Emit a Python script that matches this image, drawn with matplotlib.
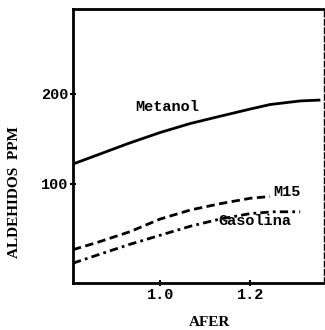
import matplotlib
matplotlib.use("Agg")
import matplotlib.pyplot as plt

# Data
afer_met = [0.806, 0.86, 0.93, 1.0, 1.067, 1.133, 1.2, 1.244, 1.311, 1.356]
metanol = [122, 132, 145, 157, 167, 175, 183, 188, 192, 193]

afer_m15 = [0.806, 0.86, 0.933, 1.0, 1.067, 1.133, 1.2, 1.244]
m15 = [27, 35, 47, 61, 71, 78, 84, 86]

afer_gas = [0.806, 0.86, 0.933, 1.0, 1.067, 1.133, 1.2, 1.25, 1.311]
gasolina = [12, 21, 33, 43, 53, 61, 67, 69, 69]

xticks = [1.0, 1.2]
xticklabels = ["1.0", "1.2"]
yticks = [100, 200]
yticklabels = ["100", "200"]

mono = "Liberation Mono"
serif = "Liberation Serif"

fig = plt.figure(figsize=(3.25, 3.30), dpi=100)
ax = fig.add_axes([73/325, 1-283/330, 251/325, 274/330])

ax.plot(afer_met, metanol, color="black", lw=2.0, solid_capstyle="butt")
ax.plot(afer_m15, m15, color="black", lw=2.0, dashes=(3, 1.6))
ax.plot(afer_gas, gasolina, color="black", lw=2.0, dashes=(3, 1.5, 1, 1.5))

ax.set_xlim(0.806, 1.364)
ax.set_ylim(-10, 294)

ax.set_xticks(xticks)
ax.set_xticklabels(xticklabels, family=mono, fontweight="bold", fontsize=11)
ax.set_yticks(yticks)
ax.set_yticklabels(yticklabels, family=mono, fontweight="bold", fontsize=11)
ax.tick_params(direction="inout", length=5, width=1.5, pad=1)

for s in ax.spines.values():
    s.set_linewidth(2)
ax.spines["right"].set_linestyle((0, (4, 2)))
ax.spines["right"].set_linewidth(1)

ax.text(0.944, 185, "Metanol", family=mono, fontweight="bold", fontsize=11,
        ha="left", va="center")
ax.text(1.251, 91, "M15", family=mono, fontweight="bold", fontsize=11,
        ha="left", va="center")
ax.text(1.129, 59, "Gasolina", family=mono, fontweight="bold", fontsize=11,
        ha="left", va="center")

fig.text(15/325, 1-192/330, "ALDEHIDOS  PPM", family=serif, fontweight="bold",
         fontsize=11, rotation=90, ha="center", va="center")
fig.text(210/325, 1-323/330, "AFER", family=serif, fontweight="bold",
         fontsize=11, ha="center", va="center")

fig.savefig("out.png", dpi=100)
